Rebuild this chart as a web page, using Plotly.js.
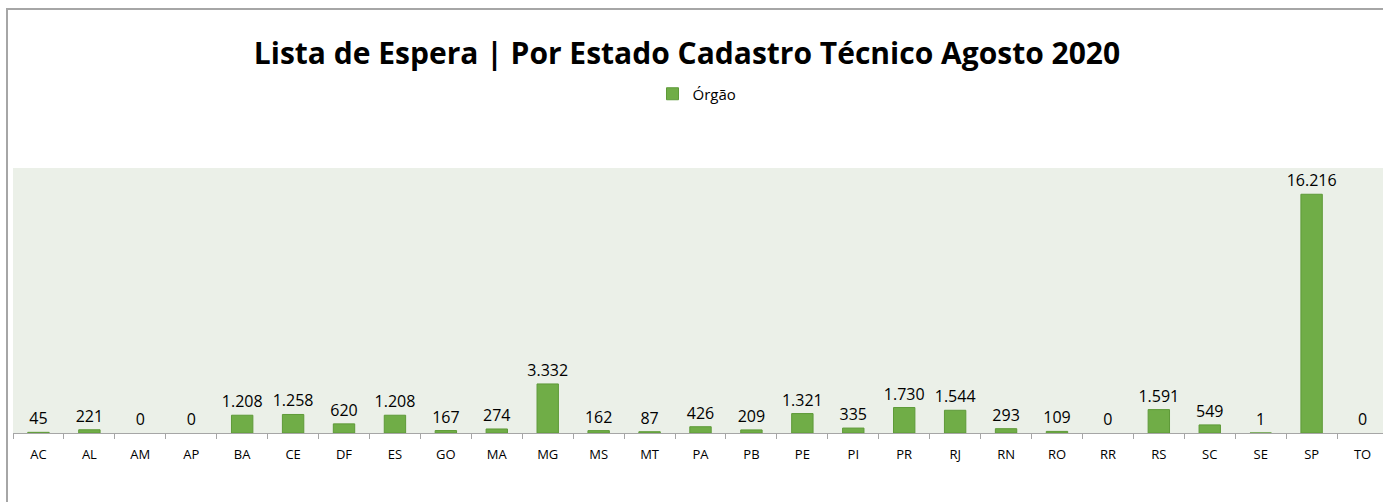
<!DOCTYPE html>
<html>
<head>
<meta charset="utf-8">
<script src="https://cdn.plot.ly/plotly-3.0.1.min.js"></script>
<style>
html,body{margin:0;padding:0;overflow:hidden;background:#fff;width:1383px;height:502px;}
#chart{position:absolute;left:0;top:0;width:1388px;height:502px;}
#frame{position:absolute;left:6px;top:8px;width:1400px;height:600px;border-left:2px solid #a6a6a6;border-top:2px solid #a6a6a6;pointer-events:none;}
</style>
</head>
<body>
<div id="chart"></div>
<div id="frame"></div>
<script>
const estados = ["AC","AL","AM","AP","BA","CE","DF","ES","GO","MA","MG","MS","MT","PA","PB","PE","PI","PR","RJ","RN","RO","RR","RS","SC","SE","SP","TO"];
const orgao = [45,221,0,0,1208,1258,620,1208,167,274,3332,162,87,426,209,1321,335,1730,1544,293,109,0,1591,549,1,16216,0];
const serieNome = "Órgão";
const tituloTexto = "Lista de Espera | Por Estado Cadastro Técnico Agosto 2020";

const trace = {
  type: "bar",
  x: estados,
  y: orgao,
  name: serieNome,
  marker: {color: "#70AD47", line: {color: "#5E9A38", width: orgao.map(v => v > 0 ? 1 : 0)}},
  texttemplate: "%{y:,}",
  textposition: "outside",
  constraintext: "none",
  textfont: {family: "Open Sans", size: 16, color: "#000"},
  cliponaxis: false,
  showlegend: true,
  hoverinfo: "x+y"
};

const layout = {
  width: 1388,
  height: 502,
  margin: {l: 13, r: 0, t: 168, b: 69, pad: 0},
  separators: ",.",
  paper_bgcolor: "#ffffff",
  plot_bgcolor: "#EBF0E8",
  font: {family: "Open Sans", color: "#000"},
  title: {
    text: "<b>" + tituloTexto + "</b>",
    font: {family: "Open Sans", size: 30, color: "#000"},
    x: 687/1388, xanchor: "center", xref: "container",
    y: 1 - 53/502, yanchor: "middle", yref: "container"
  },
  showlegend: true,
  legend: {
    orientation: "h",
    x: 697/1388, xanchor: "center", xref: "container",
    y: 1 - 94/502, yanchor: "middle", yref: "container",
    font: {family: "Open Sans", size: 15, color: "#000"},
    itemwidth: 30,
    bgcolor: "rgba(0,0,0,0)"
  },
  bargap: 0.58,
  xaxis: {
    type: "category",
    showgrid: false,
    showline: true,
    linecolor: "#a6a6a6",
    linewidth: 1,
    ticks: "outside",
    tickson: "boundaries",
    ticklen: 5,
    tickcolor: "#a6a6a6",
    ticklabelstandoff: 9,
    tickfont: {family: "Open Sans", size: 13, color: "#000"},
    fixedrange: true
  },
  yaxis: {
    range: [0, 18000],
    visible: false,
    showgrid: false,
    zeroline: false,
    fixedrange: true
  }
};

Plotly.newPlot("chart", [trace], layout, {displayModeBar: false, staticPlot: true});
</script>
</body>
</html>
